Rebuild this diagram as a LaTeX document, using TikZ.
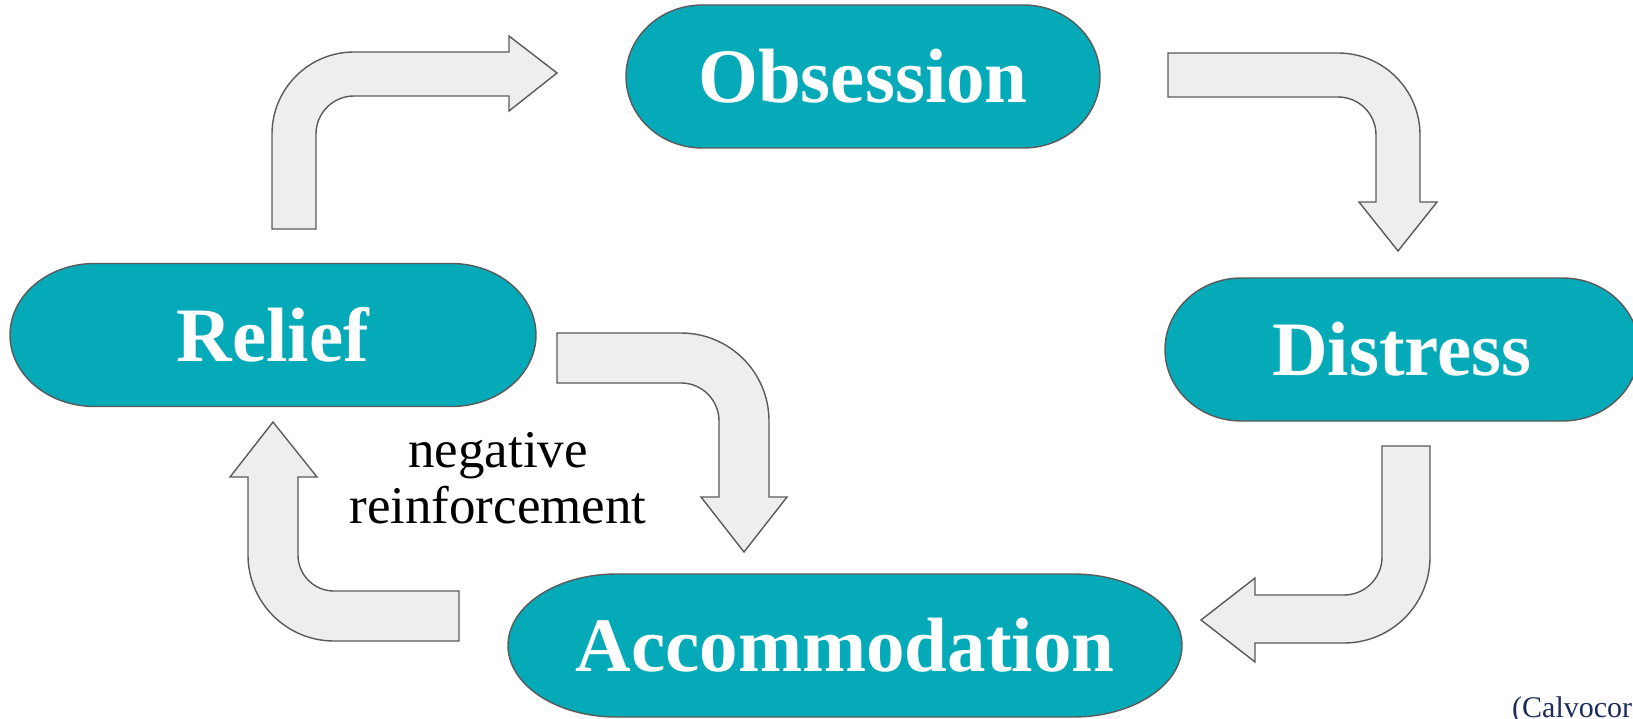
\documentclass[tikz,border=0pt]{standalone}
\usepackage{fontspec}
\setmainfont{Liberation Serif}
\usepackage{xcolor}

\definecolor{stagefill}{HTML}{05AAB8}
\definecolor{stageline}{HTML}{5A5A5A}
\definecolor{arrowfill}{HTML}{EEEEEE}
\definecolor{citeblue}{HTML}{1C2D5C}

% terminator box: name, centre x, centre y, width, label
\newcommand{\stage}[5]{%
  \path[stagebox] ({#2-#4/2+0.161*#4},{#3-71.5}) -- ({#2+#4/2-0.161*#4},{#3-71.5})
    arc[start angle=270, end angle=450, x radius={0.161*#4}, y radius=71.5]
    -- ({#2-#4/2+0.161*#4},{#3+71.5})
    arc[start angle=90, end angle=270, x radius={0.161*#4}, y radius=71.5] -- cycle;
  \node[stagetext] (#1) at (#2,#3) {#5};}

\begin{document}
\begin{tikzpicture}[x=1pt, y=1pt, yscale=-1,
    stagebox/.style={fill=stagefill, draw=stageline, line width=1.4pt},
    stagetext/.style={text=white, inner sep=0pt, font=\fontsize{77}{80}\selectfont\bfseries},
    blockarrow/.style={fill=arrowfill, draw=stageline, line width=1.4pt, line join=miter}]
  \useasboundingbox (0,0) rectangle (1633,719);

  \stage{obs}{863}{76.5}{474}{Obsession}
  \stage{dist}{1402}{349.5}{474}{Distress}
  \stage{acc}{845}{645.5}{674}{Accommodation}
  \stage{rel}{273}{335}{526}{Relief}

  % relief -> obsession
  \draw[blockarrow] (272,229) -- (272,134) arc[start angle=180, end angle=270, radius=82]
    -- (509,52) -- (509,36) -- (557,73) -- (509,111) -- (509,96) -- (354,96)
    arc[start angle=270, end angle=180, radius=38] -- (316,229) -- cycle;
  % obsession -> distress
  \draw[blockarrow] (1168,53) -- (1338,53) arc[start angle=270, end angle=360, radius=82]
    -- (1420,202) -- (1437,202) -- (1398,251) -- (1359,202) -- (1376,202) -- (1376,135)
    arc[start angle=0, end angle=-90, radius=38] -- (1168,97) -- cycle;
  % distress -> accommodation
  \draw[blockarrow] (1430,446) -- (1430,557) arc[start angle=0, end angle=90, radius=86]
    -- (1255,643) -- (1255,662) -- (1201,620) -- (1255,578) -- (1255,595) -- (1344,595)
    arc[start angle=90, end angle=0, radius=38] -- (1382,446) -- cycle;
  % accommodation -> relief
  \draw[blockarrow] (459,641) -- (334,641) arc[start angle=90, end angle=180, radius=86]
    -- (248,477) -- (230,477) -- (273,422) -- (317,477) -- (298,477) -- (298,555)
    arc[start angle=180, end angle=90, radius=36] -- (459,591) -- cycle;
  % relief -> accommodation
  \draw[blockarrow] (557,333) -- (681,333) arc[start angle=270, end angle=360, radius=88]
    -- (769,497) -- (787,497) -- (744,552) -- (701,497) -- (719,497) -- (719,421)
    arc[start angle=0, end angle=-90, radius=38] -- (557,383) -- cycle;

  \node[align=center, inner sep=0pt, font=\fontsize{53}{55.5}\selectfont] (neg) at (498,478)
    {negative\\reinforcement};
  \node[anchor=base west, inner sep=0pt, text=citeblue, font=\fontsize{30}{32}\selectfont]
    (cite) at (1512,717) {(Calvocor};
\end{tikzpicture}
\end{document}
